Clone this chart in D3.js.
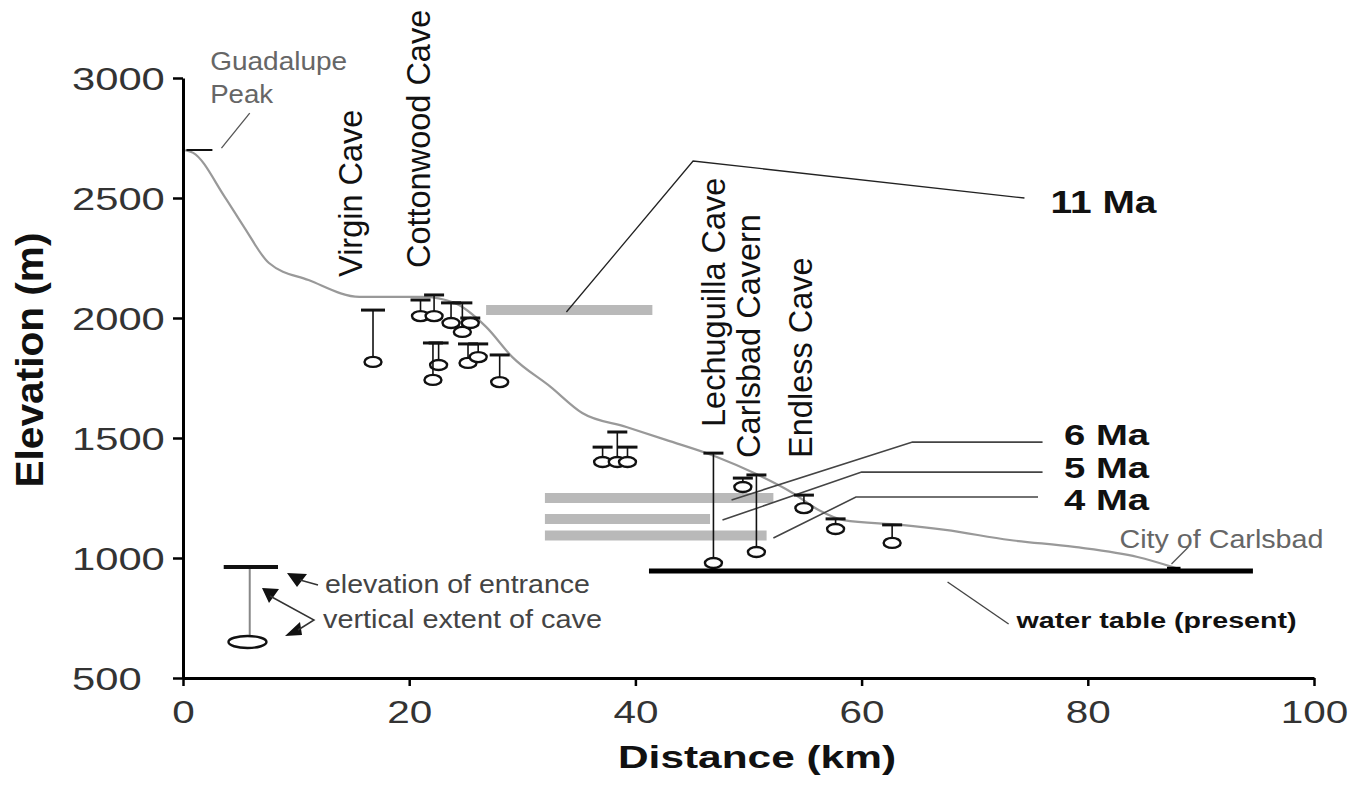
<!doctype html>
<meta charset="utf-8" />
<style>
    body { margin: 0; background: #fff; }
    text { font-family: "Liberation Sans", Arial, sans-serif; }
</style>
<svg></svg>

<script src="https://cdn.jsdelivr.net/npm/d3@7/dist/d3.min.js"></script>
<script>
    // axis ticks
    var xTicks = [0, 20, 40, 60, 80, 100]
    var yTicks = [500, 1000, 1500, 2000, 2500, 3000]

    // land surface profile (km, m)
    var profileKm = [0, 0.9, 3.7, 5.4, 7.6, 11.1, 15.6, 21.2, 24.0, 26.8, 29.1, 32.5, 35.3, 39.2, 42.7, 47.2, 50.5, 53.9, 56.2, 58.4, 63.5, 67.4, 73.1, 78.8, 84.4, 87.8]
    var profileElev = [2700, 2688, 2504, 2379, 2229, 2158, 2088, 2088, 2063, 1963, 1838, 1713, 1604, 1546, 1492, 1421, 1354, 1271, 1200, 1158, 1138, 1117, 1075, 1046, 1004, 958]

    // caves: entrance elevation and bottom of cave
    var caveKm = [16.8, 21.0, 22.2, 23.7, 24.7, 25.4, 22.6, 22.1, 25.2, 26.1, 28.0, 37.1, 38.4, 39.3, 46.9, 49.5, 50.7, 54.9, 57.7, 62.7]
    var caveTop = [2033, 2075, 2096, 2063, 2063, 2000, 1896, 1896, 1892, 1892, 1846, 1462, 1525, 1462, 1437, 1333, 1346, 1262, 1163, 1138]
    var caveBottom = [1817, 2008, 2008, 1979, 1942, 1979, 1804, 1742, 1813, 1837, 1733, 1400, 1400, 1400, 979, 1296, 1025, 1208, 1121, 1063]

    // cave names (rotated labels)
    var caveNames = ['Virgin Cave', 'Cottonwood Cave', 'Lechuguilla Cave', 'Carlsbad Cavern', 'Endless Cave']
    var caveNameKm = [15.8, 21.8, 47.9, 51.0, 55.6]
    var caveNameElev = [2171, 2208, 1546, 1417, 1417]

    // paleo water tables
    var ageLabels = ['11 Ma', '6 Ma', '5 Ma', '4 Ma']
    var tableElev = [2033, 1250, 1162, 1094]
    var tableStart = [26.8, 32.0, 32.0, 32.0]
    var tableEnd = [41.5, 52.2, 46.6, 51.6]
    // callout lines from each table to its label
    var calloutKm = [[33.9, 45.1, 74.4], [48.5, 64.5, 76.0], [47.7, 60.0, 76.0], [52.2, 59.5, 75.6]]
    var calloutElev = [[2025, 2654, 2500], [1242, 1483, 1483], [1158, 1358, 1358], [1083, 1254, 1254]]
    var ageLabelKm = [76.7, 77.9, 77.9, 77.9]
    var ageLabelElev = [2437, 1471, 1333, 1200]

    // present water table
    var waterKm = [41.2, 94.6]
    var waterElev = 946

    var svg = d3.select('svg')
        .attr('width', 1364)
        .attr('height', 791)

    var x = d3.scaleLinear().domain([0, 100]).range([183, 1314])
    var y = d3.scaleLinear().domain([500, 3000]).range([678, 78])

    function label(g, txt, px, py, size, opts) {
        opts = opts || {}
        var t = g.append('text')
            .attr('x', px)
            .attr('y', py)
            .attr('font-size', size)
            .attr('font-weight', opts.bold ? 'bold' : 'normal')
            .attr('fill', opts.fill || '#111')
            .attr('text-anchor', opts.anchor || 'start')
            .text(txt)
        if (opts.len) t.attr('textLength', opts.len).attr('lengthAdjust', 'spacingAndGlyphs')
        return t
    }

    // gray paleo water table bars
    svg.selectAll('.tbl')
        .data(ageLabels)
        .enter().append('line')
        .attr('x1', (d, i) => x(tableStart[i]))
        .attr('x2', (d, i) => x(tableEnd[i]))
        .attr('y1', (d, i) => y(tableElev[i]))
        .attr('y2', (d, i) => y(tableElev[i]))
        .style('stroke', '#b9b9b9')
        .style('stroke-width', 10)

    // land profile
    var line = d3.line()
        .x((d, i) => x(d))
        .y((d, i) => y(profileElev[i]))
        .curve(d3.curveMonotoneX)
    svg.append('path')
        .attr('d', line(profileKm))
        .style('fill', 'none')
        .style('stroke', '#999')
        .style('stroke-width', 2.2)

    // callouts
    svg.selectAll('.callout')
        .data(calloutKm)
        .enter().append('polyline')
        .attr('points', (d, i) => d.map((k, j) => x(k) + ',' + y(calloutElev[i][j])).join(' '))
        .style('fill', 'none')
        .style('stroke', (d, i) => i === 0 ? '#222' : '#444')
        .style('stroke-width', (d, i) => i === 0 ? 1.3 : 1.6)

    ageLabels.forEach(function (d, i) {
        label(svg, d, x(ageLabelKm[i]), y(ageLabelElev[i]), i === 0 ? 32 : 29, { bold: true, len: i === 0 ? 106 : 85 })
    })

    // caves
    var caves = svg.selectAll('.cave')
        .data(caveKm)
        .enter().append('g')
    caves.append('line')
        .attr('x1', d => x(d)).attr('x2', d => x(d))
        .attr('y1', (d, i) => y(caveTop[i]))
        .attr('y2', (d, i) => y(caveBottom[i]) - 5)
        .style('stroke', '#111')
        .style('stroke-width', 1.6)
    caves.append('line')
        .attr('x1', (d, i) => x(d) - (i === 0 ? 12 : 10))
        .attr('x2', (d, i) => x(d) + (i === 0 ? 12 : 10))
        .attr('y1', (d, i) => y(caveTop[i]))
        .attr('y2', (d, i) => y(caveTop[i]))
        .style('stroke', '#111')
        .style('stroke-width', 3)
    caves.append('ellipse')
        .attr('cx', d => x(d))
        .attr('cy', (d, i) => y(caveBottom[i]))
        .attr('rx', 8.5)
        .attr('ry', 5)
        .style('fill', '#fff')
        .style('stroke', '#111')
        .style('stroke-width', 2.4)

    caveNames.forEach(function (d, i) {
        var px = x(caveNameKm[i]), py = y(caveNameElev[i])
        label(svg, d, 0, 0, 32.5, {}).attr('transform', 'translate(' + px + ',' + py + ') rotate(-90)')
    })

    // present water table
    svg.append('line')
        .attr('x1', x(waterKm[0])).attr('x2', x(waterKm[1]))
        .attr('y1', y(waterElev)).attr('y2', y(waterElev))
        .style('stroke', '#000')
        .style('stroke-width', 5)
    svg.append('line')
        .attr('x1', x(67.6)).attr('y1', y(900))
        .attr('x2', x(73.0)).attr('y2', y(725))
        .style('stroke', '#444').style('stroke-width', 1.4)
    label(svg, 'water table (present)', x(73.7), y(708), 22, { bold: true, len: 280 })

    // Guadalupe Peak
    svg.append('line')
        .attr('x1', x(0.3)).attr('x2', x(2.6))
        .attr('y1', y(2700)).attr('y2', y(2700))
        .style('stroke', '#111').style('stroke-width', 2)
    svg.append('line')
        .attr('x1', x(3.4)).attr('y1', y(2708))
        .attr('x2', x(5.9)).attr('y2', y(2854))
        .style('stroke', '#555').style('stroke-width', 1.3)
    label(svg, 'Guadalupe', x(2.4), y(3033), 25, { fill: '#666', len: 137 })
    label(svg, 'Peak', x(2.4), y(2896), 25, { fill: '#666', len: 63 })

    // City of Carlsbad
    svg.append('line')
        .attr('x1', x(87.0)).attr('x2', x(88.2))
        .attr('y1', y(955)).attr('y2', y(955))
        .style('stroke', '#000').style('stroke-width', 4)
    svg.append('line')
        .attr('x1', x(87.4)).attr('y1', y(975))
        .attr('x2', x(88.9)).attr('y2', y(1046))
        .style('stroke', '#555').style('stroke-width', 1.3)
    label(svg, 'City of Carlsbad', x(82.8), y(1042), 25, { fill: '#666', len: 204 })

    // legend
    var lg = svg.append('g')
    lg.append('line')
        .attr('x1', x(5.9)).attr('x2', x(5.9))
        .attr('y1', y(962)).attr('y2', y(665))
        .style('stroke', '#888').style('stroke-width', 2)
    lg.append('line')
        .attr('x1', x(3.6)).attr('x2', x(8.4))
        .attr('y1', y(962)).attr('y2', y(962))
        .style('stroke', '#111').style('stroke-width', 4)
    lg.append('ellipse')
        .attr('cx', x(5.7)).attr('cy', y(650))
        .attr('rx', 19).attr('ry', 6)
        .style('fill', '#fff').style('stroke', '#111').style('stroke-width', 2.4)
    lg.append('path')
        .attr('d', 'M287,573L307,574L297,587Z M262,588L279,589L269,603Z M285,636L302,635L300,622Z')
        .style('fill', '#111')
    lg.append('path')
        .attr('d', 'M300,580L318,585 M270,596L314,620L298,630')
        .style('fill', 'none').style('stroke', '#333').style('stroke-width', 1.5)
    label(lg, 'elevation of entrance', 325, 593, 25, { fill: '#444', len: 265 })
    label(lg, 'vertical extent of cave', 323, 628, 25, { fill: '#444', len: 279 })

    // axes
    var yAxis = svg.append('g')
        .attr('transform', 'translate(183,0)')
        .call(d3.axisLeft(y).tickValues(yTicks).tickFormat(d3.format('d')).tickSize(10).tickSizeOuter(0))
    var xAxis = svg.append('g')
        .attr('transform', 'translate(0,678)')
        .call(d3.axisBottom(x).tickValues(xTicks).tickFormat(d3.format('d')).tickSize(8).tickSizeOuter(0))

    svg.selectAll('.domain').style('stroke', '#000').style('stroke-width', 3)
    svg.selectAll('.tick line').style('stroke', '#000').style('stroke-width', 2.5)

    yAxis.selectAll('text')
        .attr('x', 72 - 183)
        .attr('dy', '0.36em')
        .attr('text-anchor', 'start')
        .attr('font-size', 31)
        .attr('font-family', '"Liberation Sans", Arial, sans-serif')
        .attr('fill', '#333')
        .attr('textLength', d => String(d).length * 23.2)
        .attr('lengthAdjust', 'spacingAndGlyphs')

    xAxis.selectAll('text')
        .attr('y', 45)
        .attr('dy', 0)
        .attr('font-size', 31)
        .attr('font-family', '"Liberation Sans", Arial, sans-serif')
        .attr('fill', '#333')
        .attr('textLength', d => String(d).length * 22.5)
        .attr('lengthAdjust', 'spacingAndGlyphs')

    label(svg, 'Distance (km)', 757, 768, 32, { bold: true, anchor: 'middle', len: 278 })
    label(svg, 'Elevation (m)', 0, 0, 38, { bold: true, anchor: 'middle', len: 255 })
        .attr('transform', 'translate(43,360) rotate(-90)')
</script>
